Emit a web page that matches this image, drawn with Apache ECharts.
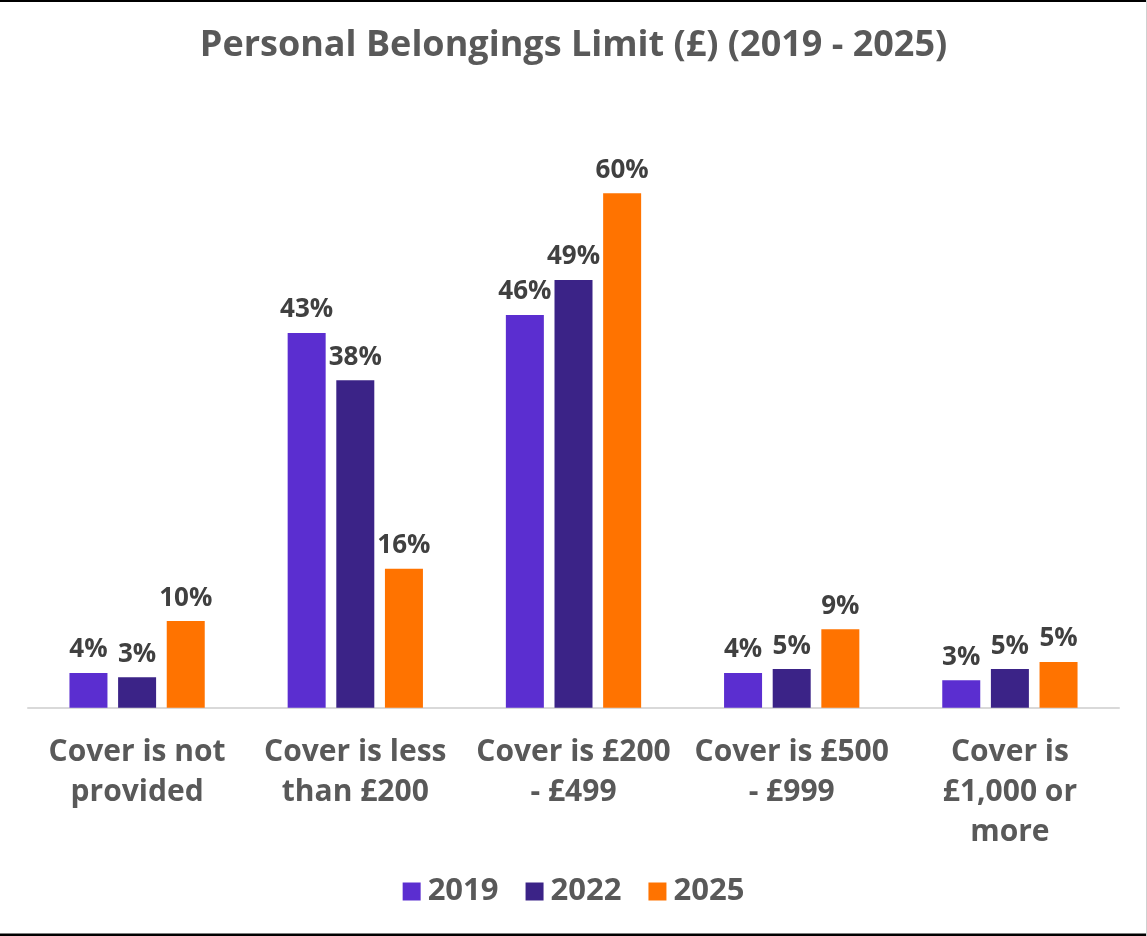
<!DOCTYPE html>
<html>
<head>
<meta charset="utf-8">
<script src="https://cdn.jsdelivr.net/npm/echarts@6/dist/echarts.min.js"></script>
<style>
html,body{margin:0;padding:0;background:#fff;}
#chart{width:1147px;height:936px;}
</style>
</head>
<body>
<div id="chart"></div>
<script>
const categories = ['Cover is not\nprovided', 'Cover is less\nthan £200', 'Cover is £200\n- £499', 'Cover is £500\n- £999', 'Cover is\n£1,000 or\nmore'];
const seriesNames = ['2019', '2022', '2025'];
const values2019 = [4.05, 43.7, 45.8, 4.05, 3.2];
const values2022 = [3.55, 38.2, 49.9, 4.5, 4.5];
const values2025 = [10.1, 16.2, 60.0, 9.15, 5.33];
const labels2019 = ['4%', '43%', '46%', '4%', '3%'];
const labels2022 = ['3%', '38%', '49%', '5%', '5%'];
const labels2025 = ['10%', '16%', '60%', '9%', '5%'];
const colors = ['#5B2ED0', '#3B2387', '#FF7300'];

const FONT = '"Open Sans", sans-serif';
const allValues = [values2019, values2022, values2025];
const allLabels = [labels2019, labels2022, labels2025];

const chart = echarts.init(document.getElementById('chart'));
chart.setOption({
  backgroundColor: '#ffffff',
  animation: false,
  title: {
    text: 'Personal Belongings Limit (£) (2019 - 2025)',
    left: 'center',
    top: 23,
    textStyle: { fontFamily: FONT, fontWeight: 'bold', fontSize: 36, color: '#595959' }
  },
  legend: {
    data: seriesNames,
    bottom: 24,
    left: 'center',
    itemWidth: 18,
    itemHeight: 18,
    itemGap: 27,
    icon: 'rect',
    textStyle: { fontFamily: FONT, fontWeight: 'bold', fontSize: 31, color: '#595959', lineHeight: 30, padding: [0, 0, 0, 2] }
  },
  grid: { left: 28, right: 28, top: 107.6, bottom: 228.3, containLabel: false },
  xAxis: {
    type: 'category',
    data: categories,
    axisLine: { show: true, lineStyle: { color: '#D9D9D9', width: 2 } },
    axisTick: { show: false },
    axisLabel: {
      interval: 0,
      margin: 25,
      fontFamily: FONT, fontWeight: 'bold', fontSize: 30, lineHeight: 40, color: '#595959'
    }
  },
  yAxis: {
    type: 'value', min: 0, max: 70, show: false,
    splitLine: { show: false }
  },
  series: seriesNames.map((name, si) => ({
    name: name,
    type: 'bar',
    barWidth: 38,
    barGap: '28%',
    itemStyle: { color: colors[si] },
    label: {
      show: true,
      position: 'top',
      distance: 10,
      fontFamily: FONT, fontWeight: 'bold', fontSize: 26, color: '#404040',
      formatter: (p) => allLabels[si][p.dataIndex]
    },
    data: allValues[si]
  })),
  graphic: [
    { type: 'rect', shape: { x: 0, y: 0, width: 1147, height: 2 }, style: { fill: '#000' }, silent: true },
    { type: 'rect', shape: { x: 0, y: 933.5, width: 1147, height: 2.5 }, style: { fill: '#000' }, silent: true },
    { type: 'rect', shape: { x: 1146, y: 0, width: 1, height: 936 }, style: { fill: '#d0d0d0' }, silent: true }
  ]
});
</script>
</body>
</html>
